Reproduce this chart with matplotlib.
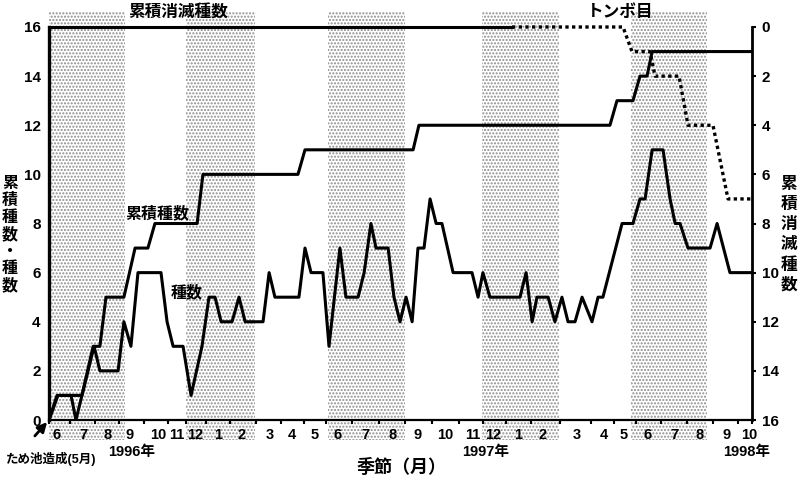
import numpy as np
import matplotlib
matplotlib.use("Agg")
import matplotlib.pyplot as plt
from matplotlib.patches import Rectangle
from matplotlib.transforms import blended_transform_factory

plt.rcParams['font.family'] = ['Liberation Sans', 'Noto Sans CJK JP', 'DejaVu Sans']
plt.rcParams['font.weight'] = 'bold'
plt.rcParams['hatch.linewidth'] = 1.0

# x = months elapsed since the start of June 1996
species_x = [0.00, 0.33, 0.91, 1.11, 1.86, 2.10, 2.85, 3.09, 3.38, 3.67,
             4.62, 4.87, 5.12, 5.53, 5.86, 6.31, 6.60, 6.85, 7.10, 7.55,
             7.84, 8.09, 8.83, 9.08, 9.32, 10.31, 10.56, 10.81, 11.30, 11.55,
             12.00, 12.25, 12.75, 13.00, 13.28, 13.49, 13.99, 14.23, 14.48, 14.73,
             14.98, 15.22, 15.47, 15.72, 15.97, 16.21, 16.67, 17.45, 17.70, 17.90,
             18.19, 19.43, 19.68, 19.93, 20.13, 20.59, 20.87, 21.16, 21.41, 21.70,
             21.99, 22.40, 22.65, 22.85, 23.64, 24.09, 24.38, 24.59, 24.88, 25.33,
             25.62, 25.83, 26.03, 26.36, 27.27, 27.56, 28.09, 29.00]
species = [0, 1, 1, 0, 3, 2, 2, 4, 3, 6,
           6, 4, 3, 3, 1, 3, 5, 5, 4, 4,
           5, 4, 4, 6, 5, 5, 7, 6, 6, 3,
           7, 5, 5, 6, 8, 7, 7, 5, 4, 5,
           4, 7, 7, 9, 8, 8, 6, 6, 5, 6,
           5, 5, 6, 4, 5, 5, 4, 5, 4, 4,
           5, 4, 5, 5, 8, 8, 9, 9, 11, 11,
           9, 8, 8, 7, 7, 8, 6, 6]

cum_x = [0.00, 0.37, 1.36, 1.82, 2.10, 2.35, 3.09, 3.55, 4.08, 4.37, 6.11, 6.35,
         10.27, 10.56, 15.02, 15.26, 23.14, 23.43, 24.09, 24.38, 24.67, 24.88, 29.00]
cum_species = [0, 1, 1, 3, 3, 5, 5, 7, 7, 8, 8, 10,
               10, 11, 11, 12, 12, 13, 13, 14, 14, 15, 15]

ext_x = [0.00, 19.10]
ext = [0, 0]
odonata_x = [19.10, 23.68, 24.05, 24.79, 25.00, 25.99, 26.36, 27.39, 28.01, 29.00]
odonata = [0, 0, 1, 1, 2, 2, 4, 4, 7, 7]

# shaded seasons (summer Jun-Aug, winter Dec-Feb)
season_start = [0.00, 5.65, 11.51, 17.86, 24.01]
season_end = [3.14, 8.50, 14.69, 21.04, 27.15]

month_pos = [0.33, 1.40, 2.43, 3.34, 4.50, 5.28, 6.02, 6.97, 7.96, 9.12,
             10.03, 10.97, 11.92, 13.04, 14.19, 15.22, 16.34, 17.49, 18.32, 19.35,
             20.38, 21.78, 22.90, 23.72, 24.71, 25.79, 26.82, 27.97, 28.88]
month_labels = ['6', '7', '8', '9', '10', '11', '12', '1', '2', '3',
                '4', '5', '6', '7', '8', '9', '10', '11', '12', '1',
                '2', '3', '4', '5', '6', '7', '8', '9', '10']

fig = plt.figure(figsize=(8, 4.8), dpi=100)
ax = fig.add_axes([49 / 800, 60 / 480, 703 / 800, 393 / 480])
ax.set_xlim(0, 29)
ax.set_ylim(0, 16)

trans = blended_transform_factory(ax.transData, ax.transAxes)
for s, e in zip(season_start, season_end):
    r = Rectangle((s, -0.051), e - s, 1.089, transform=trans, facecolor='white',
                  edgecolor='#8c8c8c', hatch='.....', linewidth=0, zorder=0,
                  clip_on=False)
    ax.add_patch(r)

ax.plot(cum_x, cum_species, color='black', lw=2.2, zorder=3)
ax.plot(species_x, species, color='black', lw=2.2, zorder=3)

ax2 = ax.twinx()
ax2.set_ylim(16, 0)
ax2.plot(ext_x, ext, color='black', lw=2.2, clip_on=False)
ax2.plot(odonata_x, odonata, color='black', lw=2.4, ls=(0, (1, 1)), clip_on=False)

for a in (ax, ax2):
    a.spines['top'].set_visible(False)
ax.spines['left'].set_linewidth(2.4)
ax.spines['bottom'].set_linewidth(1.6)
ax2.spines['right'].set_linewidth(2.0)
ax2.spines['left'].set_visible(False)
ax2.spines['bottom'].set_visible(False)

ax.set_yticks(np.arange(0, 17, 2))
ax.tick_params(axis='y', length=0, pad=6, labelsize=11)
ax2.set_yticks(np.arange(0, 17, 2))
ax2.tick_params(axis='y', length=3, width=1.5, pad=4, labelsize=11)

ax.set_xticks(month_pos)
ax.set_xticklabels(month_labels)
edges = np.concatenate([[0], (np.array(month_pos[:-1]) + np.array(month_pos[1:])) / 2, [29]])
ax.set_xticks(edges, minor=True)
ax.tick_params(axis='x', which='major', length=0, pad=6, labelsize=10.5)
ax.tick_params(axis='x', which='minor', length=3, width=1.5, direction='out')

ax.text(4.46, 8.43, '累積種数', ha='center', va='center', fontsize=11.5, zorder=4)
ax.text(5.69, 5.21, '種数', ha='center', va='center', fontsize=11.5, zorder=4)

fig.text(178 / 800, 1 - 13 / 480, '累積消滅種数', ha='center', va='center', fontsize=12)
fig.text(620 / 800, 1 - 12 / 480, 'トンボ目', ha='center', va='center', fontsize=12)

fig.text(10 / 800, 1 - 235 / 480, '\n'.join('累積種数・種数'), ha='center', va='center',
         fontsize=11.5, linespacing=1.15)
fig.text(789 / 800, 1 - 235 / 480, '\n'.join('累積消滅種数'), ha='center', va='center',
         fontsize=12, linespacing=1.4)

fig.text(132 / 800, 1 - 452 / 480, '1996年', ha='center', va='center', fontsize=10.5)
fig.text(486 / 800, 1 - 452 / 480, '1997年', ha='center', va='center', fontsize=10.5)
fig.text(747 / 800, 1 - 452 / 480, '1998年', ha='center', va='center', fontsize=10.5)
fig.text(402 / 800, 1 - 468 / 480, '季節（月）', ha='center', va='center', fontsize=13)
fig.text(51 / 800, 1 - 459 / 480, 'ため池造成(5月)', ha='center', va='center', fontsize=9)

ax.annotate('', xy=(0, 0), xycoords='data', xytext=(33 / 800, 1 - 438 / 480),
            textcoords='figure fraction',
            arrowprops=dict(arrowstyle='-|>', color='black', lw=2, mutation_scale=14),
            annotation_clip=False)

fig.savefig('out.png', dpi=100)
